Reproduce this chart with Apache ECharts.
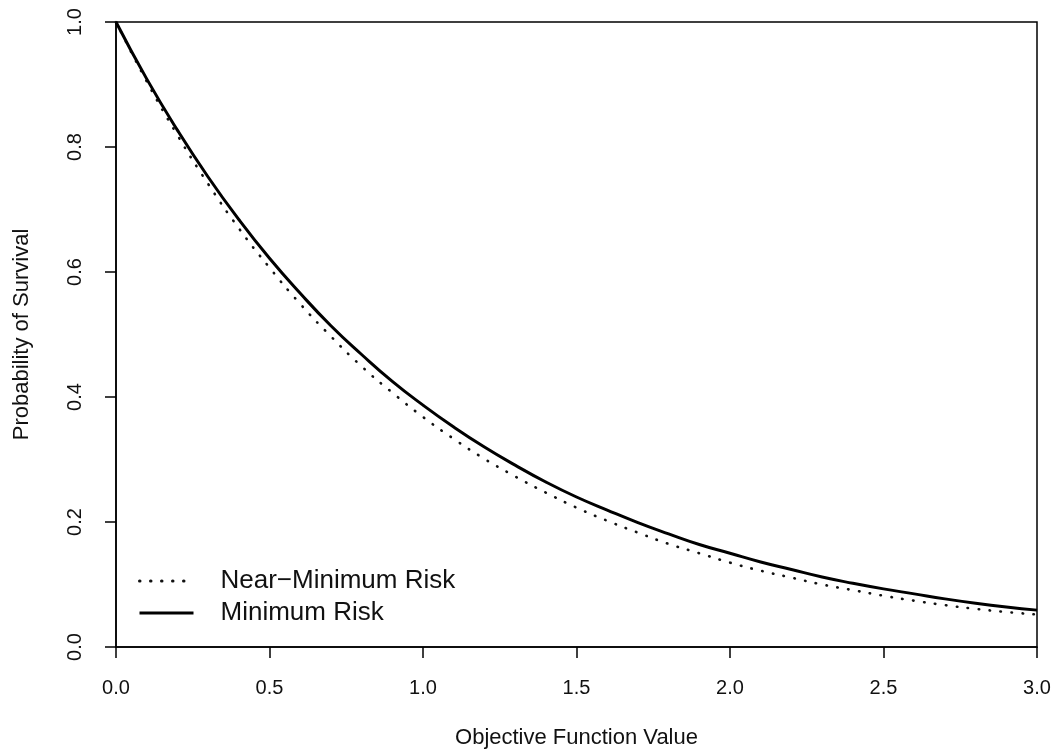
<!DOCTYPE html>
<html>
<head>
<meta charset="utf-8">
<script src="https://cdn.jsdelivr.net/npm/echarts@6/dist/echarts.min.js"></script>
<style>html,body{margin:0;padding:0;background:#fff}#c{width:1057px;height:753px}</style>
</head>
<body>
<div id="c"></div>
<script>
const xValues = [0.0,0.1,0.2,0.3,0.4,0.5,0.6,0.7,0.8,0.9,1.0,1.1,1.2,1.3,1.4,1.5,1.6,1.7,1.8,1.9,2.0,2.1,2.2,2.3,2.4,2.5,2.6,2.7,2.8,2.9,3.0];
const minimumRisk = [1.000,0.909,0.827,0.752,0.684,0.622,0.566,0.514,0.468,0.425,0.387,0.352,0.320,0.291,0.264,0.240,0.219,0.199,0.181,0.164,0.150,0.136,0.124,0.112,0.102,0.093,0.085,0.077,0.070,0.064,0.059];
const nearMinimumRisk = [1.000,0.905,0.819,0.741,0.670,0.607,0.549,0.497,0.449,0.407,0.368,0.333,0.301,0.273,0.247,0.223,0.202,0.183,0.165,0.150,0.135,0.122,0.111,0.100,0.091,0.082,0.074,0.067,0.061,0.056,0.052];
const seriesNames = ['Near\u2212Minimum Risk','Minimum Risk'];
const xTitle = 'Objective Function Value';
const yTitle = 'Probability of Survival';

const font = 'Liberation Sans, Arial, Helvetica, sans-serif';
const chart = echarts.init(document.getElementById('c'), null, {renderer:'canvas'});
chart.setOption({
  animation:false,
  backgroundColor:'#fff',
  grid:{left:116, top:22, right:20, bottom:106, show:true, borderColor:'#000', borderWidth:1.5, containLabel:false, outerBoundsMode:'none'},
  legend:{
    left:133, top:563, orient:'vertical', itemGap:6, itemWidth:54, itemHeight:26,
    itemStyle:{opacity:0},
    lineStyle:{width:3},
    textStyle:{fontFamily:font, fontSize:26, color:'#111', padding:[0,0,0,22]},
    data:seriesNames
  },
  xAxis:{
    type:'value', min:0, max:3, interval:0.5,
    name:xTitle, nameLocation:'middle', nameGap:80,
    nameTextStyle:{fontFamily:font, fontSize:22, color:'#111'},
    axisLine:{show:true, onZero:false, lineStyle:{color:'#000', width:1.5}},
    axisTick:{show:true, inside:false, length:11, lineStyle:{color:'#000', width:1.5}},
    axisLabel:{fontFamily:font, fontSize:20, color:'#111', margin:31, formatter:v=>v.toFixed(1)},
    splitLine:{show:false}
  },
  yAxis:{
    type:'value', min:0, max:1, interval:0.2,
    name:yTitle, nameLocation:'middle', nameGap:83,
    nameTextStyle:{fontFamily:font, fontSize:22, color:'#111'},
    axisLine:{show:true, onZero:false, lineStyle:{color:'#000', width:1.5}},
    axisTick:{show:true, inside:false, length:11, lineStyle:{color:'#000', width:1.5}},
    axisLabel:{fontFamily:font, fontSize:20, color:'#111', margin:31, rotate:90, formatter:v=>v.toFixed(1)},
    splitLine:{show:false}
  },
  series:[
    {name:seriesNames[0], type:'line', smooth:true, symbol:'none',
     data:xValues.map((x,i)=>[x,nearMinimumRisk[i]]),
     lineStyle:{color:'#111', width:2.6, type:[0.5,10.5], cap:'round'}, itemStyle:{color:'#111'}},
    {name:seriesNames[1], type:'line', smooth:true, symbol:'none',
     data:xValues.map((x,i)=>[x,minimumRisk[i]]),
     lineStyle:{color:'#000', width:3, type:'solid'}, itemStyle:{color:'#000'}}
  ]
});
</script>
</body>
</html>
